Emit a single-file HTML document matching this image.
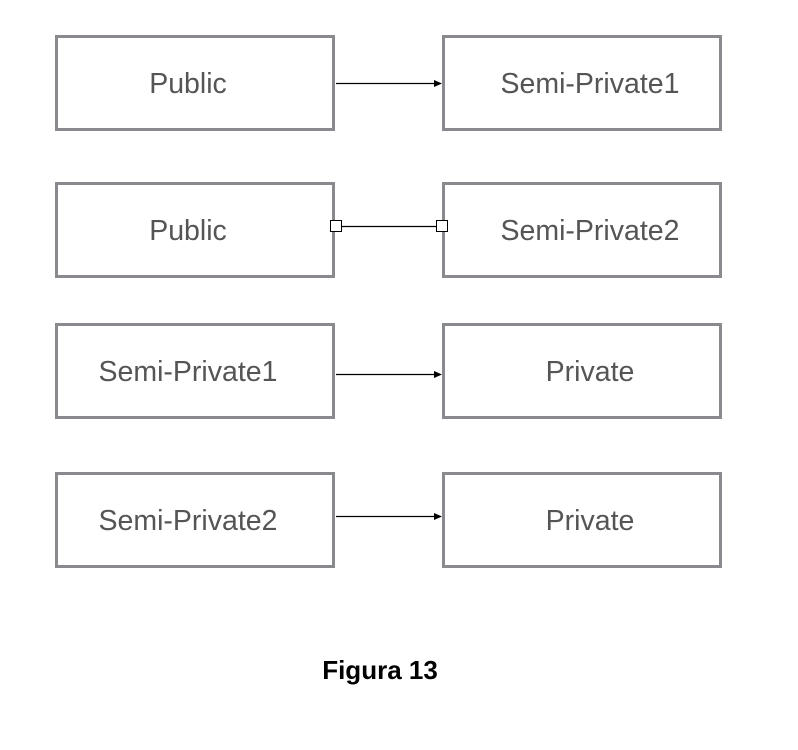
<!DOCTYPE html>
<html><head><style>
body{margin:0;width:798px;height:750px;background:#fff;position:relative;font-family:"Liberation Sans",sans-serif;overflow:hidden}
.b{position:absolute;box-sizing:border-box;width:280px;height:96px;border:3px solid #898a8d}
.l{left:55px}.r{left:442px}
.x{position:absolute;width:300px;text-align:center;font-size:28.5px;color:#555;line-height:32px}
.xl{left:38px}.xr{left:440px}
.t{position:absolute;left:0;width:760px;text-align:center;top:655px;font-size:26px;font-weight:bold;color:#000}
</style></head><body>
<div class="b l" style="top:35px"></div>
<div class="b r" style="top:35px"></div>
<div class="b l" style="top:182px"></div>
<div class="b r" style="top:182px"></div>
<div class="b l" style="top:323px"></div>
<div class="b r" style="top:323px"></div>
<div class="b l" style="top:472px"></div>
<div class="b r" style="top:472px"></div>
<div class="x xl" style="top:68px">Public</div>
<div class="x xr" style="top:68px">Semi-Private1</div>
<div class="x xl" style="top:215px">Public</div>
<div class="x xr" style="top:215px">Semi-Private2</div>
<div class="x xl" style="top:356px">Semi-Private1</div>
<div class="x xr" style="top:356px">Private</div>
<div class="x xl" style="top:505px">Semi-Private2</div>
<div class="x xr" style="top:505px">Private</div>
<svg width="798" height="750" style="position:absolute;left:0;top:0">
<g stroke="#000" stroke-width="1.2">
<line x1="336" y1="83.5" x2="436" y2="83.5"/>
<line x1="342" y1="226.5" x2="436" y2="226.5"/>
<line x1="336" y1="374.5" x2="436" y2="374.5"/>
<line x1="336" y1="516.5" x2="436" y2="516.5"/>
</g>
<g fill="#000">
<polygon points="434,80 442,83.5 434,87"/>
<polygon points="434,371 442,374.5 434,378"/>
<polygon points="434,513 442,516.5 434,520"/>
</g>
<g fill="#fff" stroke="#000" stroke-width="1">
<rect x="330.5" y="220.5" width="11" height="11"/>
<rect x="436.5" y="220.5" width="11" height="11"/>
</g>
</svg>
<div class="t">Figura 13</div>
</body></html>
